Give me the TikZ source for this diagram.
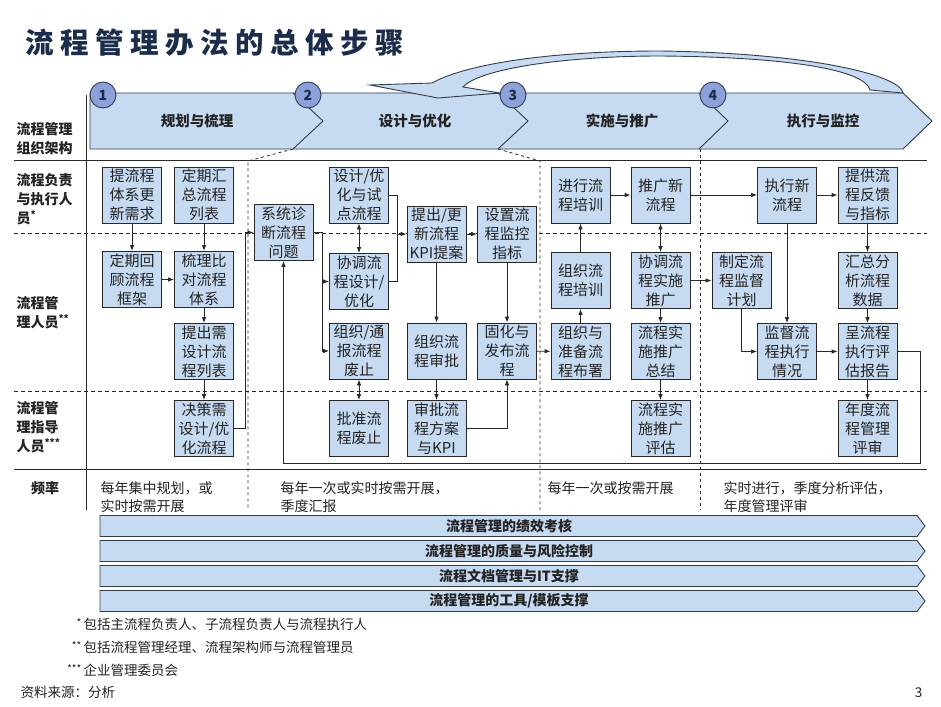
\documentclass[tikz,border=0pt]{standalone}
\usepackage{fontspec}
\setmainfont{Noto Sans CJK SC}
\usetikzlibrary{arrows.meta,calc}
\definecolor{titlecol}{RGB}{28,45,75}
\definecolor{boxfill}{RGB}{198,219,242}
\definecolor{bandfill}{RGB}{198,219,242}
\definecolor{circfill}{RGB}{140,160,218}
\definecolor{linecol}{RGB}{40,40,40}
\definecolor{bandline}{RGB}{50,60,75}
\definecolor{txt}{RGB}{35,35,35}
\tikzset{
  box/.style={draw=linecol, line width=0.8pt, fill=boxfill, minimum width=59pt, minimum height=56pt,
    inner sep=0pt, align=center, text=txt, font=\fontsize{15}{19}\selectfont},
  conn/.style={draw=linecol, line width=0.8pt},
  arr/.style={conn, -{Latex[length=6pt,width=4.5pt]}},
  arrtwo/.style={conn, {Latex[length=6pt,width=4.5pt]}-{Latex[length=6pt,width=4.5pt]}},
  frame/.style={draw=linecol, line width=0.9pt},
  laneline/.style={draw=linecol, line width=0.8pt, dash pattern=on 4pt off 3pt},
  phaseline/.style={draw=linecol, line width=0.8pt, dash pattern=on 3pt off 3pt},
  bandedge/.style={draw=bandline, line width=0.9pt},
  circ/.style={circle, draw=bandline, line width=0.9pt, fill=circfill, minimum size=26pt, inner sep=0pt,
    text=titlecol, font=\fontsize{14}{14}\selectfont\bfseries},
  phaselabel/.style={text=txt, font=\fontsize{14.5}{16}\selectfont\bfseries},
  lane/.style={anchor=west, align=left, text=txt, font=\fontsize{14}{19}\selectfont\bfseries},
  freq/.style={anchor=west, align=left, text=txt, font=\fontsize{14}{18}\selectfont},
  support/.style={text=txt, font=\fontsize{14}{16}\selectfont\bfseries},
  foot/.style={anchor=base west, text=txt, font=\fontsize{13.5}{16}\selectfont},
}
\newcommand{\tsp}{\hspace{6.5pt}}
\begin{document}
\begin{tikzpicture}[x=1pt,y=-1pt]
\useasboundingbox (0,0) rectangle (941,706);
\fill[white] (0,0) rectangle (941,706);

% title
\node[anchor=west, text=titlecol, font=\fontsize{28.5}{30}\selectfont\bfseries] (title) at (22,43)
  {流\tsp 程\tsp 管\tsp 理\tsp 办\tsp 法\tsp 的\tsp 总\tsp 体\tsp 步\tsp 骤};

% frame lines
\draw[frame] (86,95) -- (86,510);
\draw[frame] (14,160) -- (927,160);
\draw[laneline] (14,233) -- (927,233);
\draw[laneline] (14,391) -- (927,391);
\draw[frame] (14,469) -- (927,469);
\draw[phaseline] (293,149) -- (248,161) -- (248,510);
\draw[phaseline] (498,149) -- (540,161) -- (540,510);
\draw[phaseline] (700,149) -- (700,510);

% header band
\draw[bandedge, fill=bandfill] (90,93) -- (903,93) -- (932,121) -- (903,149) -- (90,149) -- cycle;
\draw[bandedge] (293,93) -- (323,121) -- (293,149);
\draw[bandedge] (498,93) -- (528,121) -- (498,149);
\draw[bandedge] (699,93) -- (728,121) -- (699,149);

% curved return arrow
\draw[bandedge, fill=bandfill] (903,93) .. controls (900,75) and (810,53) .. (660,51)
  .. controls (560,51) and (470,62) .. (432,83) -- (370,85) -- (438,98) -- (500,93) -- (463,87)
  .. controls (480,68) and (570,56) .. (660,56)
  .. controls (790,57) and (865,70) .. (870,90) -- cycle;

\node[circ] (n1) at (103,95) {1};
\node[circ] (n2) at (308,95) {2};
\node[circ] (n3) at (513,95) {3};
\node[circ] (n4) at (713,95) {4};

\node[phaselabel] (h1) at (197,121) {规划与梳理};
\node[phaselabel] (h2) at (415,121) {设计与优化};
\node[phaselabel] (h3) at (622,121) {实施与推广};
\node[phaselabel] (h4) at (823,121) {执行与监控};

% lane labels
\node[lane] (l0) at (13,139) {流程管理\\组织架构};
\node[lane] (l1) at (13,199) {流程负责\\与执行人\\员\textsuperscript{*}};
\node[lane] (l2) at (13,313) {流程管\\理人员\textsuperscript{**}};
\node[lane] (l3) at (13,427) {流程管\\理指导\\人员\textsuperscript{***}};
\node[lane, anchor=center] (l4) at (45,488) {频率};

% boxes phase 1
\node[box] (b1) at (132,195) {提流程\\体系更\\新需求};
\node[box] (b2) at (204,195) {定期汇\\总流程\\列表};
\node[box] (b3) at (132,279.5) {定期回\\顾流程\\框架};
\node[box] (b4) at (204,279.5) {梳理比\\对流程\\体系};
\node[box] (b5) at (204,351.5) {提出需\\设计流\\程列表};
\node[box] (b6) at (204,428.5) {决策需\\设计/优\\化流程};
% phase 2
\node[box] (c1) at (283.5,232.5) {系统诊\\断流程\\问题};
\node[box] (c2) at (359,195) {设计/优\\化与试\\点流程};
\node[box] (c3) at (359,281.5) {协调流\\程设计/\\优化};
\node[box] (c4) at (359,351) {组织/通\\报流程\\废止};
\node[box] (c5) at (359,428.5) {批准流\\程废止};
\node[box] (c6) at (436.5,234) {提出/更\\新流程\\KPI提案};
\node[box] (c7) at (507,234) {设置流\\程监控\\指标};
\node[box] (c8) at (436.5,351) {组织流\\程审批};
\node[box] (c9) at (436.5,428.5) {审批流\\程方案\\与KPI};
\node[box] (c10) at (507,351) {固化与\\发布流\\程};
% phase 3
\node[box] (d1) at (580.5,195) {进行流\\程培训};
\node[box] (d2) at (660.5,195) {推广新\\流程};
\node[box] (d3) at (580.5,280.5) {组织流\\程培训};
\node[box] (d4) at (660.5,280.5) {协调流\\程实施\\推广};
\node[box] (d5) at (580.5,351.5) {组织与\\准备流\\程布署};
\node[box] (d6) at (660.5,351.5) {流程实\\施推广\\总结};
\node[box] (d7) at (660.5,428.5) {流程实\\施推广\\评估};
% phase 4
\node[box] (e1) at (787,195) {执行新\\流程};
\node[box] (e2) at (867.5,195) {提供流\\程反馈\\与指标};
\node[box] (e3) at (741.5,280.5) {制定流\\程监督\\计划};
\node[box] (e4) at (867.5,280.5) {汇总分\\析流程\\数据};
\node[box] (e5) at (787,351.5) {监督流\\程执行\\情况};
\node[box] (e6) at (867.5,351.5) {呈流程\\执行评\\估报告};
\node[box] (e7) at (867.5,428.5) {年度流\\程管理\\评审};

% connectors phase 1
\draw[arr] (b1) -- (b3);
\draw[arr] (b2) -- (b4);
\draw[arr] (b3) -- (b4);
\draw[arr] (b4) -- (b5);
\draw[arr] (b5) -- (b6);
\draw[arr] (b6.east) -- ++(11,0) |- (c1.west);
% phase 2
\draw[arr] (c1.east) -- ++(9,0) |- (c4.west);
\draw[arr] (c1.east) ++(9,0) |- (c3.west);
\draw[arrtwo] (c2) -- (c3);
\draw[conn] (c2.east) -- ++(8,0) |- (c3.east);
\draw[arr] (c6.west) ++(-10,0) -- (c6.west);
\draw[arr] (c6) -- (c7);
\draw[arr] (c6) -- (c8);
\draw[arr] (c7) -- (c10);
\draw[arr] (c8) -- (c9);
\draw[arr] (c9.east) -| (c10.south);
\draw[arrtwo] (c4) -- (c5);
\draw[arr] (c10) -- (d5);
% phase 3
\draw[arr] (d5) -- (d3);
\draw[arr] (d3) -- (d1);
\draw[arr] (d1) -- (d2);
\draw[arr] (d2) -- (e1);
\draw[arrtwo] (d2) -- (d4);
\draw[arr] (d4) -- (d6);
\draw[arr] (d6) -- (d7);
\draw[arr] (d4) -- (e3);
% phase 4
\draw[arr] (e1) -- (e2);
\draw[arr] (e3.south) |- (e5.west);
\draw[arr] (e1) -- (e5);
\draw[arr] (e5) -- (e6);
\draw[arr] (e2) -- (e4);
\draw[arr] (e4) -- (e6);
\draw[arr] (e6) -- (e7);
\draw[arr] (e6.east) -| (920,463) -| (c1.south);

% frequency row
\node[freq] (f1) at (97,497) {每年集中规划，或\\实时按需开展};
\node[freq] (f2) at (277,497) {每年一次或实时按需开展，\\季度汇报};
\node[freq] (f3) at (544,488) {每年一次或按需开展};
\node[freq] (f4) at (720,497) {实时进行，季度分析评估，\\年度管理评审};

% support bands
\foreach \yc/\nm/\lbl in {526/s1/{流程管理的绩效考核}, 551/s2/{流程管理的质量与风险控制}, 576/s3/{流程文档管理与IT支撑}, 601/s4/{流程管理的工具/模板支撑}}{
  \draw[bandedge, fill=bandfill] (100,\yc-10.5) -- (917,\yc-10.5) -- (925,\yc) -- (917,\yc+10.5) -- (100,\yc+10.5) -- cycle;
  \node[support] (\nm) at (509,\yc) {\lbl};
}

% footnotes
\node[foot] (fn1) at (80,629) {\llap{\raisebox{3pt}{\fontsize{10}{10}\selectfont *}\,}包括主流程负责人、子流程负责人与流程执行人};
\node[foot] (fn2) at (80,652) {\llap{\raisebox{3pt}{\fontsize{10}{10}\selectfont **}\,}包括流程管理经理、流程架构师与流程管理员};
\node[foot] (fn3) at (80,675) {\llap{\raisebox{3pt}{\fontsize{10}{10}\selectfont ***}\,}企业管理委员会};
\node[foot] (src) at (17,697) {资料来源：分析};
\node[foot, anchor=base east] (pg) at (926,697) {3};
\end{tikzpicture}
\end{document}
